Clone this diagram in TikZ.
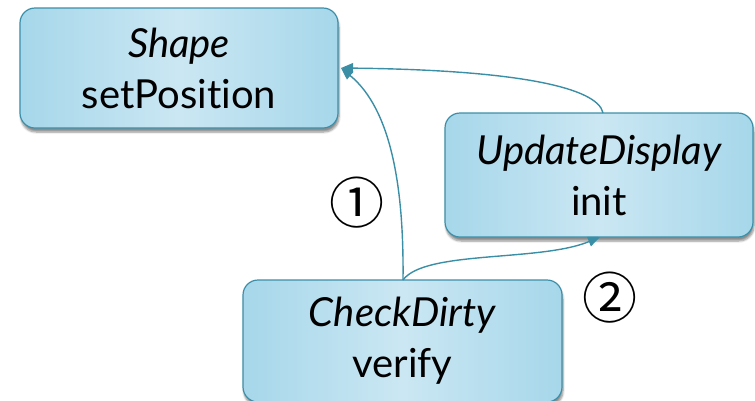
\documentclass[tikz,border=0pt]{standalone}
\usepackage{fontspec}
\setmainfont[Ligatures={NoCommon,NoRare}]{Lato}
\newfontfamily\symfont{Noto Sans CJK SC}
\usetikzlibrary{arrows.meta,shadows.blur}
\definecolor{boxedge}{HTML}{3C8FA8}
\definecolor{boxside}{HTML}{A6D7EA}
\definecolor{boxmid}{HTML}{CBE7F3}
\definecolor{link}{HTML}{3A8FA6}
\tikzset{
  classbox/.style={rectangle, rounded corners=15pt, draw=boxedge, line width=1.2pt,
    left color=boxside, right color=boxside, middle color=boxmid,
    blur shadow={shadow xshift=1pt, shadow yshift=-4pt, shadow blur steps=6, shadow opacity=45},
    align=center, inner sep=0pt, font=\fontsize{40}{51}\selectfont},
  link/.style={draw=link, line width=1.4pt, -{Triangle[length=12pt,width=10pt]}},
  stepnum/.style={font=\symfont\fontsize{55}{55}\selectfont, inner sep=0pt}
}
\begin{document}
\begin{tikzpicture}[x=1pt,y=-1pt]
  \useasboundingbox (0,0) rectangle (755,400);
  % the three class boxes
  \node[classbox, minimum width=318pt, minimum height=120pt] (shape) at (179,68)
    {\textit{Shape}\\setPosition};
  \node[classbox, minimum width=308pt, minimum height=124pt] (update) at (599,175)
    {\textit{UpdateDisplay}\\init};
  \node[classbox, minimum width=319pt, minimum height=122pt] (check) at (402.5,341)
    {\textit{CheckDirty}\\verify};
  % connectors
  \coordinate (cdtop) at (403,280);
  \coordinate (udtop) at (603,113);
  \coordinate (udbot) at (600,237);
  \coordinate (shright) at (341,68);
  \draw[link] (cdtop) .. controls (404,190) and (392,110) .. (shright);
  \draw[link] (udtop) .. controls (598,88) and (520,70) .. (shright);
  \draw[link] (cdtop) .. controls (425,250) and (540,262) .. (udbot);
  % step numbers
  \node[stepnum] (one) at (357,203) {①};
  \node[stepnum] (two) at (610,298) {②};
\end{tikzpicture}
\end{document}
